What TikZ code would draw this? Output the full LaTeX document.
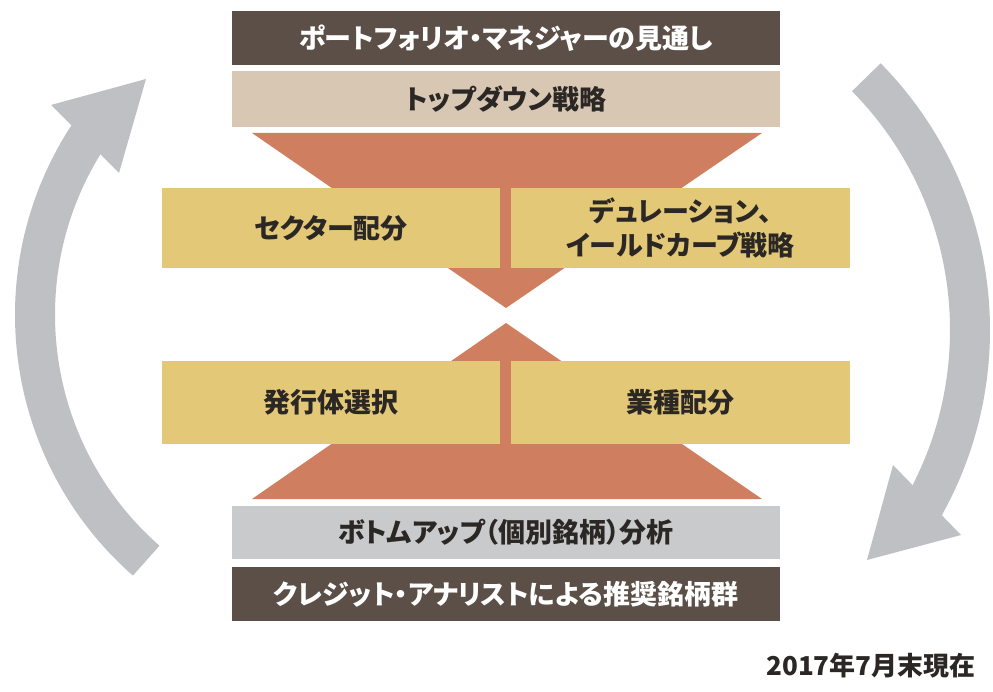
\documentclass[tikz,border=0pt]{standalone}
\usepackage{fontspec}
\usetikzlibrary{calc}
\newfontfamily\jp[RawFeature=+palt]{Noto Sans CJK JP}
\newfontfamily\jpd{Noto Sans CJK JP}
\definecolor{darkbar}{HTML}{5B4F48}
\definecolor{beige}{HTML}{D8C7B2}
\definecolor{terra}{HTML}{CF7F5F}
\definecolor{mustard}{HTML}{E3C878}
\definecolor{lgray}{HTML}{C9CACC}
\definecolor{agray}{HTML}{BEC0C3}
\definecolor{txt}{HTML}{2B2724}
\begin{document}
\begin{tikzpicture}[x=1pt,y=1pt,
  jpfont/.style={font=\jp\bfseries\fontsize{27}{34}\selectfont},
  bar/.style={rectangle, inner sep=0pt, minimum width=548pt, jpfont},
  ybox/.style={rectangle, fill=mustard, inner sep=0pt, minimum width=338pt, text=txt, align=center, jpfont},
  cyclearrow/.style={agray, line width=40pt, line cap=butt},
  funnel/.style={fill=terra}
]
\useasboundingbox (0,0) rectangle (993,-692);

% cycle arrows
\draw[cyclearrow] ($(362,-315)+(228.7:327)$) arc[start angle=228.7, end angle=145, radius=327];
\fill[agray] (146,-79) -- (51,-105) -- (119,-173) -- cycle;
\draw[cyclearrow] ($(610,-330)+(44.6:360)$) arc[start angle=44.6, end angle=-32, radius=360];
\fill[agray] (867,-560) -- (961,-535) -- (893,-465) -- cycle;

% funnels
\fill[funnel] (252,-133) -- (762,-133) -- (506,-308) -- cycle;
\fill[funnel] (252,-499) -- (762,-499) -- (506,-323) -- cycle;

% bars
\node[bar, fill=darkbar, text=white, minimum height=54pt] (pm) at (506,-38) {ポートフォリオ・マネジャーの見通し};
\node[bar, fill=beige, text=txt, minimum height=56pt] (td) at (506,-99) {トップダウン戦略};
\node[bar, fill=lgray, text=txt, minimum height=53pt] (bu) at (506,-532.5) {ボトムアップ（個別銘柄）分析};
\node[bar, fill=darkbar, text=white, minimum height=54pt] (ca) at (506,-594) {クレジット・アナリストによる推奨銘柄群};

% yellow boxes
\node[ybox, minimum height=80pt] (sector) at (331,-228) {セクター配分};
\node[ybox, minimum height=80pt, minimum width=339pt] (dur) at (680.5,-228) {デュレーション、\\イールドカーブ戦略};
\node[ybox, minimum height=83pt] (issuer) at (331,-402.5) {発行体選択};
\node[ybox, minimum height=83pt, minimum width=339pt] (ind) at (680.5,-402.5) {業種配分};

% date
\node[font=\jpd\bfseries\fontsize{26}{30}\selectfont, text=txt, inner sep=0pt] (date) at (871,-666) {2017年7月末現在};
\end{tikzpicture}
\end{document}
